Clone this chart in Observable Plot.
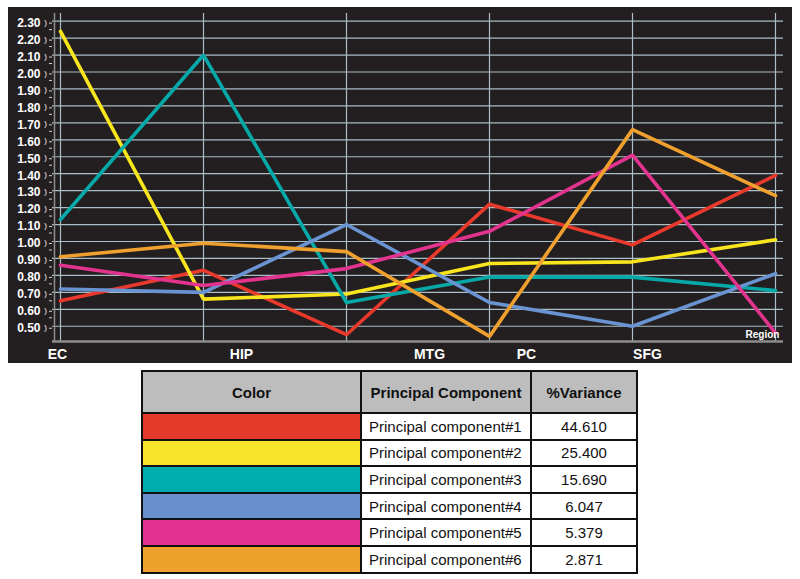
<!DOCTYPE html>
<html><head><meta charset="utf-8">
<script src="https://cdn.jsdelivr.net/npm/d3@7"></script>
<script src="https://cdn.jsdelivr.net/npm/@observablehq/plot@0.6"></script>
<style>
html,body{margin:0;padding:0;background:#fff}
body{width:800px;height:579px;position:relative;overflow:hidden;font-family:"Liberation Sans",Arial,sans-serif}
#chart{position:absolute;left:8px;top:7px;width:784px;height:356px;background:#231f20}
#chart svg{display:block}
#legend{position:absolute;left:141px;top:370px;width:495px;border-collapse:collapse;table-layout:fixed;font-family:"Liberation Sans",Arial,sans-serif;color:#111}
#legend td,#legend th{border:2px solid #111;padding:0;}
#legend th{background:#bdbdbd;font-weight:bold;font-size:15px;height:40px;text-align:center}
#legend td{height:24.6px;font-size:15px}
#legend td.name{text-align:left;padding-left:7px;white-space:nowrap}
#legend td.var{text-align:center}
</style>
</head><body>
<div id="chart"></div>
<table id="legend"></table>
<script>
// ---- data ----
const regions = ["EC", "HIP", "MTG", "PC", "SFG", "R6"];
const regionLabels = ["EC", "HIP", "MTG", "PC", "SFG", ""];
const components = ["Principal component#1", "Principal component#2", "Principal component#3",
                    "Principal component#4", "Principal component#5", "Principal component#6"];
const variance = ["44.610", "25.400", "15.690", "6.047", "5.379", "2.871"];
const pc1 = [0.65, 0.83, 0.45, 1.22, 0.98, 1.39];
const pc2 = [2.24, 0.66, 0.69, 0.87, 0.88, 1.01];
const pc3 = [1.13, 2.10, 0.64, 0.79, 0.79, 0.71];
const pc4 = [0.72, 0.70, 1.10, 0.64, 0.50, 0.81];
const pc5 = [0.86, 0.74, 0.84, 1.06, 1.51, 0.46];
const pc6 = [0.91, 0.99, 0.94, 0.44, 1.66, 1.27];
const yTickValues = [0.5, 0.6, 0.7, 0.8, 0.9, 1.0, 1.1, 1.2, 1.3, 1.4, 1.5, 1.6, 1.7, 1.8, 1.9, 2.0, 2.1, 2.2, 2.3];
const yMinorTicks = [0.55, 0.65, 0.75, 0.85, 0.95, 1.05, 1.15, 1.25, 1.35, 1.45, 1.55, 1.65, 1.75, 1.85, 1.95, 2.05, 2.15, 2.25];
const headers = ["Color", "Principal Component", "%Variance"];
const axisTitle = "Region";

// ---- styles ----
const lineColors = ["#e8392c", "#f9e51e", "#06a8a8", "#6a93d2", "#e2338f", "#f0a02e"];
const swatchColors = ["#e33a2c", "#f6e52a", "#00adad", "#6790cc", "#e33190", "#eea12c"];
const labelDx = [-3, 38, 83, 37, 15, 0];
const grid = "#a9bec6";

const series = [pc1, pc2, pc3, pc4, pc5, pc6];
const data = series.flatMap((vals, i) => vals.map((v, j) => ({pc: components[i], region: regions[j], value: v})));

const plot = Plot.plot({
  width: 784, height: 356,
  marginLeft: 44, marginRight: 9, marginTop: 6, marginBottom: 22,
  style: {background: "transparent", overflow: "visible", fontFamily: "'Liberation Sans', Arial, sans-serif"},
  x: {type: "point", domain: regions, range: [50, 768], padding: 0, axis: null},
  y: {domain: [0.41, 2.345], axis: null},
  color: {domain: components, range: lineColors},
  marks: [
    Plot.ruleY(yTickValues, {stroke: grid, strokeWidth: 1.2}),
    Plot.ruleX(regions, {stroke: grid, strokeWidth: 1.2}),
    Plot.ruleX([regions[0]], {dx: -6, stroke: "#8d8d8d", strokeWidth: 1.5}),
    Plot.ruleY([0.41], {stroke: "#8d8d8d", strokeWidth: 2.5}),
    Plot.axisY({ticks: yTickValues, anchor: "left", label: null, tickSize: 3, tickPadding: 9,
      tickFormat: d => d.toFixed(2), stroke: "#cfcfcf", fill: "#fff", fontSize: 12, fontWeight: "bold", dy: 2}),
    Plot.axisY({ticks: yMinorTicks, anchor: "left", label: null, tickSize: 3, text: null, stroke: "#cfcfcf"}),
    Plot.text(yTickValues, {y: d => d, x: () => regions[0], dx: -15, dy: 1, text: () => ")", fill: "#fff", fontSize: 8}),
    Plot.line(data, {x: "region", y: "value", z: "pc", stroke: "pc", strokeWidth: 3.6, strokeLinejoin: "miter"}),
    ...regionLabels.map((l, i) => Plot.text([l], {x: () => regions[i], text: d => d, frameAnchor: "bottom",
      dy: 13.5, dx: labelDx[i], lineAnchor: "middle", fill: "#fff", fontSize: 14, fontWeight: "bold"})),
    Plot.text([axisTitle], {x: () => regions[5], text: d => d, frameAnchor: "bottom", dy: -6.5, dx: -13,
      lineAnchor: "middle", fill: "#fff", fontSize: 10, fontWeight: "bold"})
  ]
});
document.getElementById("chart").appendChild(plot);

// ---- legend table ----
const table = d3.select("#legend");
const cg = table.append("colgroup");
cg.append("col").style("width", "219px");
cg.append("col").style("width", "170px");
cg.append("col").style("width", "106px");
table.append("tr").selectAll("th").data(headers).join("th").text(d => d);
components.forEach((c, i) => {
  const tr = table.append("tr");
  tr.append("td").style("background", swatchColors[i]);
  tr.append("td").attr("class", "name").text(c);
  tr.append("td").attr("class", "var").text(variance[i]);
});
</script>
</body></html>
